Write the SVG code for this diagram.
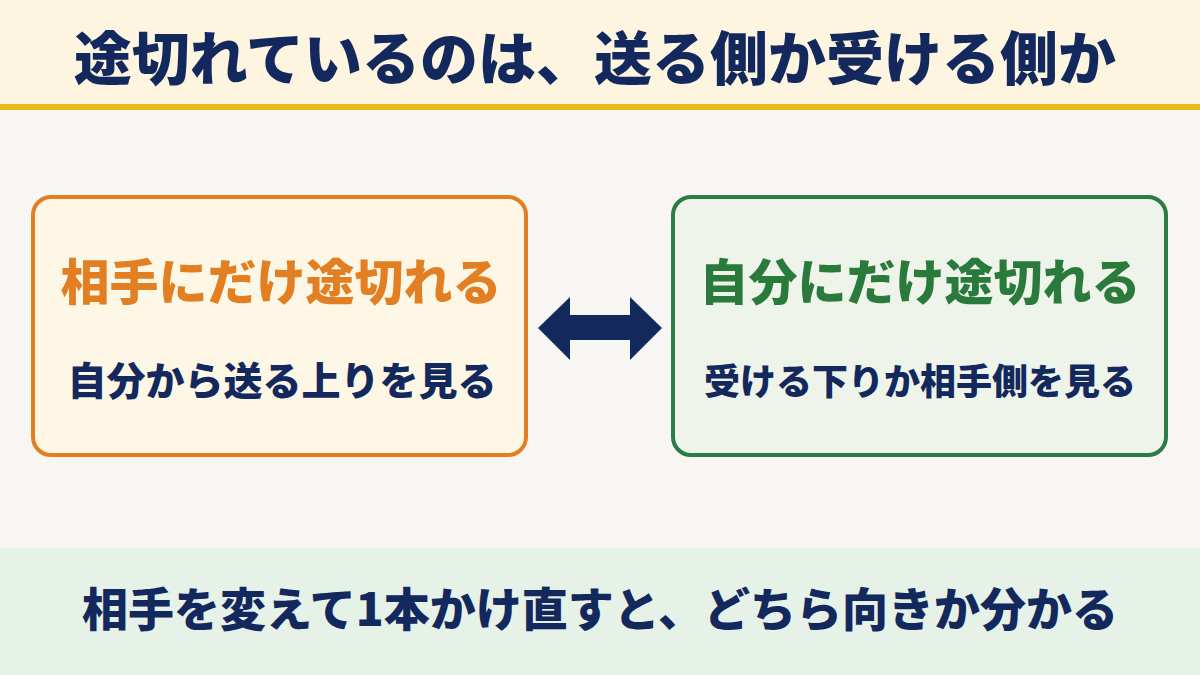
<svg xmlns="http://www.w3.org/2000/svg" width="1200" height="675" viewBox="0 0 1200 675">
<style>
text{font-family:"Noto Sans CJK JP","Noto Sans CJK SC",sans-serif;font-weight:900;text-anchor:middle}
.navy{fill:#13285C}
.box{stroke-width:4}
</style>
<rect width="1200" height="675" fill="#F7F6F2"/>
<g id="header">
<rect x="0" y="0" width="1200" height="104" fill="#FDF5E0"/>
<rect x="0" y="104" width="1200" height="6" fill="#E9B91A"/>
<text class="navy" x="595" y="80" font-size="58">途切れているのは、送る側か受ける側か</text>
</g>
<g id="left-node">
<rect class="box" x="33" y="197" width="493" height="258" rx="18" fill="#FEF7E6" stroke="#E27F22"/>
<text x="281" y="300" font-size="49" fill="#E27F22">相手にだけ途切れる</text>
<text class="navy" x="282" y="395" font-size="39">自分から送る上りを見る</text>
</g>
<g id="right-node">
<rect class="box" x="673" y="197" width="493" height="258" rx="18" fill="#EEF4EA" stroke="#2D7B45"/>
<text x="920" y="300" font-size="49" fill="#2A7A3C">自分にだけ途切れる</text>
<text class="navy" x="920" y="395" font-size="36">受ける下りか相手側を見る</text>
</g>
<g id="connectors">
<polygon points="538,328 570,297 570,315 630,315 630,297 662,328 630,360 630,340 570,340 570,360" fill="#13285C"/>
</g>
<g id="footer">
<rect x="0" y="548" width="1200" height="127" fill="#E6F1E8"/>
<text class="navy" x="600" y="626" font-size="46">相手を変えて1本かけ直すと、どちら向きか分かる</text>
</g>
</svg>
